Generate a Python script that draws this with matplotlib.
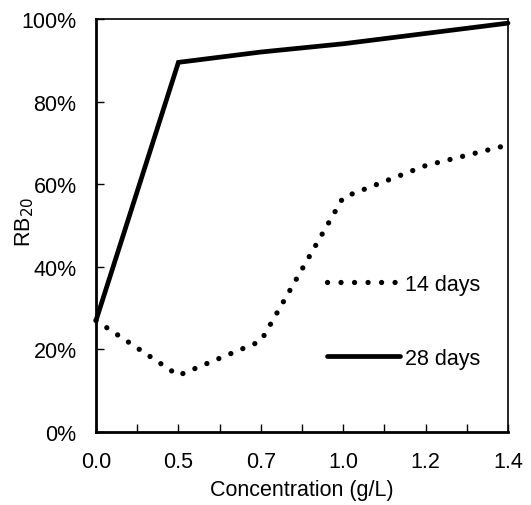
import numpy as np
import matplotlib.pyplot as plt
from matplotlib.ticker import FuncFormatter, MultipleLocator

plt.rcParams['font.family'] = ['Liberation Sans', 'DejaVu Sans']

conc = ["0.0", "0.5", "0.7", "1.0", "1.2", "1.4"]
days14 = [27, 13.7, 22, 56.8, 64.5, 69.5]
days28 = [27, 89.5, 92, 94, 96.5, 99]

x = np.arange(len(conc))
fs = 15.5

fig = plt.figure(figsize=(5.31, 5.06), dpi=100)
ax = fig.add_axes([96/531, 1-433/506, 412/531, 413/506])

ax.plot(x, days14, color="black", lw=3.8, linestyle=(0, (0.01, 2.45)),
        dash_capstyle="round", label="14 days", clip_on=False)
ax.plot(x, days28, color="black", lw=3.4, solid_capstyle="round",
        solid_joinstyle="miter", label="28 days", clip_on=False)

ax.set_xlim(0, len(conc)-1)
ax.set_ylim(0, 100)
ax.set_xticks(x)
ax.set_xticklabels(conc)
ax.xaxis.set_minor_locator(MultipleLocator(0.5))
ax.yaxis.set_major_locator(MultipleLocator(20))
ax.yaxis.set_major_formatter(FuncFormatter(lambda v, p: "%d%%" % v))
ax.tick_params(axis="both", which="both", direction="in", labelsize=fs, length=6, width=1)
ax.tick_params(axis="x", which="major", pad=14)
ax.tick_params(axis="y", pad=14)

for s in ["left", "bottom"]:
    ax.spines[s].set_linewidth(2)
for s in ["top", "right"]:
    ax.spines[s].set_linewidth(1.2)

ax.set_xlabel("Concentration (g/L)", fontsize=fs, labelpad=5)
ax.set_ylabel("RB$_{20}$", fontsize=fs)
ax.yaxis.set_label_coords(-0.146, 0.51)

leg = ax.legend(loc="upper left", bbox_to_anchor=(0.513, 0.43), frameon=False,
                fontsize=fs, handlelength=3.4, labelspacing=2.45, handletextpad=0.25)
# dotted sample in the legend stops a little short of its text
leg.get_lines()[0].set_linestyle((0, (0.01, 2.55)))

fig.savefig("out.png", dpi=100)
